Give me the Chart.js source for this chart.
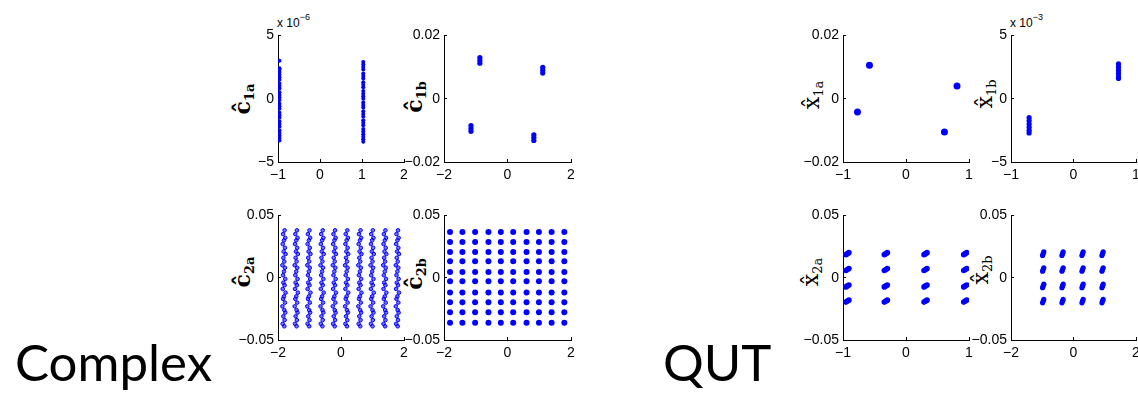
<!DOCTYPE html>
<html>
<head>
<meta charset="utf-8">
<script src="https://cdn.jsdelivr.net/npm/chart.js@4"></script>
<style>
  body { margin: 0; width: 1138px; height: 394px; overflow: hidden; background: #fff; position: relative; font-family: "Liberation Sans", Arial, sans-serif; }
  canvas { position: absolute; }
  .big { position: absolute; font-family: Lato, sans-serif; font-size: 51px; line-height: 51px; color: #000; }
  .yt { position: absolute; transform: translate(-50%, -50%) rotate(-90deg); white-space: nowrap; font-family: "DejaVu Serif", serif; font-size: 22px; font-weight: bold; line-height: 22px; }
  .yt sub { font-size: 13px; vertical-align: -4px; }
  .yt.thin { font-weight: normal; }
  .exp { position: absolute; font-size: 12px; line-height: 12px; white-space: nowrap; }
  .exp span { font-size: 9px; position: relative; top: -7px; }
</style>
</head>
<body>
<div class="big" style="left:15px;top:336px">Complex</div>
<div class="big" style="left:663px;top:336px">QUT</div>
<div class="exp" style="left:277px;top:17px">x 10<span>&minus;6</span></div>
<div class="exp" style="left:1010px;top:17px">x 10<span>&minus;3</span></div>
<div class="yt" style="left:246px;top:99px">ĉ<sub>1a</sub></div>
<div class="yt" style="left:418px;top:97px">ĉ<sub>1b</sub></div>
<div class="yt" style="left:246px;top:272px">ĉ<sub>2a</sub></div>
<div class="yt" style="left:418px;top:274px">ĉ<sub>2b</sub></div>
<div class="yt thin" style="left:815px;top:95px">x̂<sub>1a</sub></div>
<div class="yt thin" style="left:988px;top:94px">x̂<sub>1b</sub></div>
<div class="yt thin" style="left:814px;top:272px">x̂<sub>2a</sub></div>
<div class="yt thin" style="left:984px;top:270px">x̂<sub>2b</sub></div>
<script>
// Complex 1a (y in units of 1e-6)
const c1aBandX = [-0.965, 1.03];
const c1aLeftY = [3.0, 2.4, 2.3, 2.1, 1.9, 1.7, 1.5, 1.2, 1.0, 0.8, 0.5, 0.3, 0.1, -0.1, -0.4, -0.6, -0.8, -1.1, -1.3, -1.5, -1.8, -2.0, -2.2, -2.5, -2.7, -2.9, -3.1, -3.3];
const c1aRightY = [2.9, 2.7, 2.5, 2.3, 2.0, 1.8, 1.6, 1.3, 1.1, 0.9, 0.6, 0.4, 0.2, 0.0, -0.3, -0.5, -0.7, -1.0, -1.2, -1.4, -1.7, -1.9, -2.1, -2.4, -2.6, -2.8, -3.0, -3.2, -3.4];

// Complex 1b
const c1bX = [-0.87, -0.87, -0.87, 1.11, 1.11, 1.11, -1.15, -1.15, -1.15, 0.83, 0.83, 0.83];
const c1bY = [0.0130, 0.0121, 0.0112, 0.0099, 0.0090, 0.0081, -0.0085, -0.0094, -0.0103, -0.0114, -0.0123, -0.0132];

// Complex 2a / 2b
const c2Cols = [-1.81, -1.42, -1.02, -0.60, -0.21, 0.18, 0.60, 0.99, 1.39, 1.79];
const c2aColumnY = [0.038, 0.035, 0.032, 0.030, 0.027, 0.024, 0.021, 0.019, 0.016, 0.013, 0.010, 0.008, 0.005, 0.002, -0.001, -0.004, -0.006, -0.009, -0.012, -0.015, -0.017, -0.020, -0.023, -0.026, -0.028, -0.031, -0.034, -0.037, -0.039];
const c2aJitter = [0.02, -0.03, 0.04, 0.00, -0.04, 0.03, -0.01, 0.05, -0.02, 0.01, -0.05, 0.03, 0.00, -0.03, 0.04, -0.02, 0.02, -0.04, 0.05, 0.00, -0.03, 0.03, -0.05, 0.01, 0.04, -0.02, 0.02, -0.04, 0.01];
const c2bRows = [0.0366, 0.0286, 0.0206, 0.0132, 0.0046, -0.0028, -0.0118, -0.0198, -0.0278, -0.0362];

// QUT 1a
const q1aX = [-0.58, -0.77, 0.81, 0.61];
const q1aY = [0.0106, -0.0042, 0.0040, -0.0105];

// QUT 1b (y in units of 1e-3)
const q1bBandX = [-0.71, 0.72];
const q1bLeftY = [-1.5, -1.75, -2.0, -2.25, -2.5, -2.7];
const q1bRightY = [2.75, 2.5, 2.25, 2.0, 1.75, 1.6];

// QUT 2a / 2b
const q2aCols = [-0.93, -0.32, 0.31, 0.94];
const q2bCols = [-0.97, -0.35, 0.29, 0.93];
const q2Rows = [0.0193, 0.0066, -0.0066, -0.0188];
const q2aSmearX = [-0.024, 0, 0.024];
const q2aSmearY = [-0.0008, 0, 0.0008];
const q2bSmearX = [-0.02, 0, 0.02];
const q2bSmearY = [-0.0014, 0, 0.0014];

// tick labels
const ticksM1to2 = [-1, 0, 1, 2];
const ticksM2to2 = [-2, 0, 2];
const ticksM1to1 = [-1, 0, 1];
const ticksY5 = [-5, 0, 5];
const ticksY002 = [-0.02, 0, 0.02];
const ticksY005 = [-0.05, 0, 0.05];

const PAD_L = 50, PAD_R = 14, PAD_T = 15, PAD_B = 28;
const BLUE = "#0000ff";
const FONT = { family: "'Liberation Sans', Arial, sans-serif", size: 14 };

function fmt(v) {
  return String(v).replace("-", "\u2212");
}

function axis(tickVals, isX) {
  return {
    type: "linear",
    min: tickVals[0],
    max: tickVals[tickVals.length - 1],
    afterBuildTicks: s => { s.ticks = tickVals.map(v => ({ value: v })); },
    afterFit: s => { if (isX) s.height = PAD_B; else s.width = PAD_L; },
    grid: { display: true, drawOnChartArea: false, drawTicks: true, tickLength: -3, color: "#000" },
    border: { display: true, color: "#000", width: 1 },
    ticks: { color: "#000", font: FONT, padding: isX ? 8 : 7, maxRotation: 0, autoSkip: false, callback: v => fmt(v) }
  };
}

function makePlot(area, points, xTicks, yTicks, style) {
  const canvas = document.createElement("canvas");
  canvas.width = area[2] + PAD_L + PAD_R;
  canvas.height = area[3] + PAD_T + PAD_B;
  canvas.style.left = (area[0] - PAD_L) + "px";
  canvas.style.top = (area[1] - PAD_T) + "px";
  document.body.appendChild(canvas);
  new Chart(canvas, {
    type: "scatter",
    data: {
      datasets: [{
        data: points,
        pointRadius: style.r,
        backgroundColor: style.fill || BLUE,
        borderColor: BLUE,
        borderWidth: style.bw || 0
      }]
    },
    options: {
      responsive: false,
      animation: false,
      events: [],
      layout: { padding: { top: PAD_T, right: PAD_R, left: 0, bottom: 0 } },
      plugins: { legend: { display: false }, tooltip: { enabled: false } },
      scales: { x: axis(xTicks, true), y: axis(yTicks, false) }
    }
  });
}

function grid(cols, rows, sx, sy) {
  const pts = [];
  cols.forEach(x => rows.forEach(y => sx.forEach((dx, i) => pts.push({ x: x + dx, y: y + sy[i] }))));
  return pts;
}

// Complex 1a
const c1aPts = c1aLeftY.map(y => ({ x: c1aBandX[0], y })).concat(c1aRightY.map(y => ({ x: c1aBandX[1], y })));
makePlot([278, 35, 126, 127], c1aPts, ticksM1to2, ticksY5, { r: 2 });

// Complex 1b
makePlot([444, 35, 127, 127], c1bX.map((x, i) => ({ x, y: c1bY[i] })), ticksM2to2, ticksY002, { r: 2.6 });

// Complex 2a
const c2aPts = [];
c2Cols.forEach(x => c2aColumnY.forEach((y, i) => c2aPts.push({ x: x + c2aJitter[i], y })));
makePlot([278, 215, 126, 125], c2aPts, ticksM2to2, ticksY005, { r: 1.8, bw: 1, fill: "rgba(0,0,255,0.55)" });

// Complex 2b
makePlot([444, 215, 127, 125], grid(c2Cols, c2bRows, [0], [0]), ticksM2to2, ticksY005, { r: 3 });

// QUT 1a
makePlot([843, 35, 126, 127], q1aX.map((x, i) => ({ x, y: q1aY[i] })), ticksM1to1, ticksY002, { r: 3.5 });

// QUT 1b
const q1bPts = q1bLeftY.map(y => ({ x: q1bBandX[0], y })).concat(q1bRightY.map(y => ({ x: q1bBandX[1], y })));
makePlot([1011, 35, 125, 127], q1bPts, ticksM1to1, ticksY5, { r: 2.6 });

// QUT 2a
makePlot([843, 215, 126, 125], grid(q2aCols, q2Rows, q2aSmearX, q2aSmearY), ticksM1to1, ticksY005, { r: 2.8 });

// QUT 2b
makePlot([1011, 215, 125, 125], grid(q2bCols, q2Rows, q2bSmearX, q2bSmearY), ticksM2to2, ticksY005, { r: 2.6 });
</script>
</body>
</html>
